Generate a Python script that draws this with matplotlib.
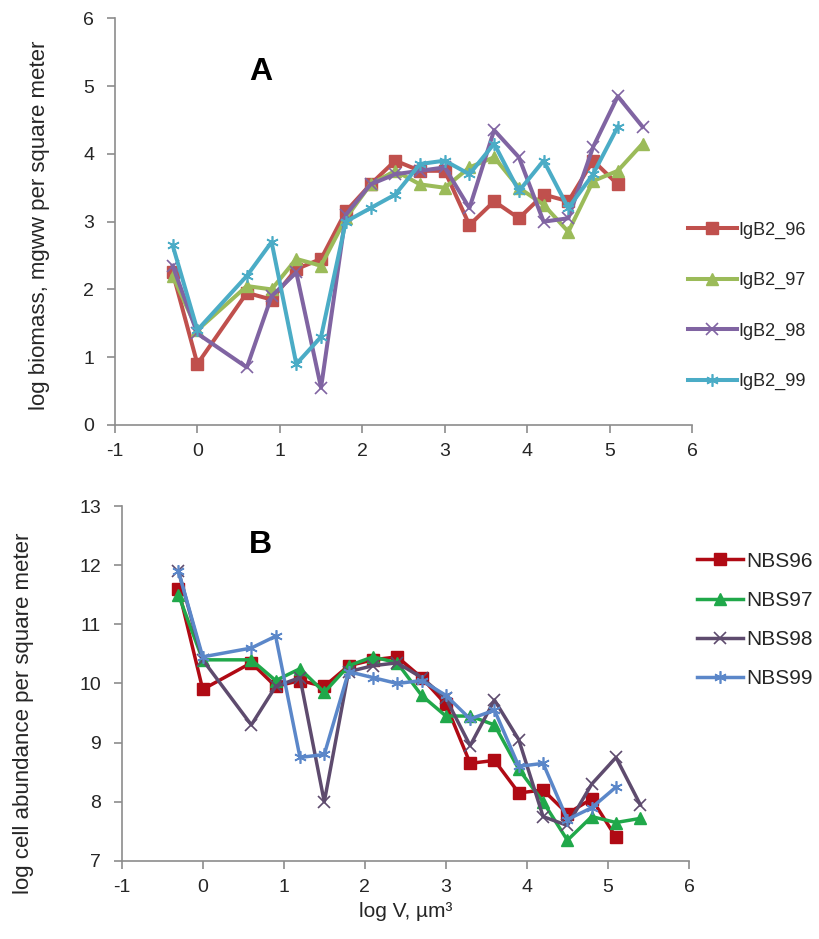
import numpy as np
import matplotlib.pyplot as plt

plt.rcParams['font.family'] = ['Liberation Sans Narrow', 'Liberation Sans', 'DejaVu Sans']
plt.rcParams['axes.unicode_minus'] = False

# log V size classes (um^3)
log_v = [-0.3, 0, 0.6, 0.9, 1.2, 1.5, 1.8, 2.1, 2.4, 2.7, 3.0, 3.3, 3.6, 3.9, 4.2, 4.5, 4.8, 5.1, 5.4]
nan = np.nan

# panel A: log biomass
igb2_96 = [2.25, 0.9, 1.95, 1.85, 2.3, 2.45, 3.15, 3.55, 3.9, 3.75, 3.75, 2.95, 3.3, 3.05, 3.4, 3.3, 3.9, 3.55, nan]
igb2_97 = [2.2, 1.4, 2.05, 2.0, 2.45, 2.35, 3.05, 3.55, 3.75, 3.55, 3.5, 3.8, 3.95, 3.5, 3.25, 2.85, 3.6, 3.75, 4.15]
igb2_98 = [2.35, 1.35, 0.85, 1.9, 2.25, 0.55, 3.1, 3.55, 3.7, 3.75, 3.8, 3.2, 4.35, 3.95, 3.0, 3.05, 4.1, 4.85, 4.4]
igb2_99 = [2.65, 1.4, 2.2, 2.7, 0.9, 1.3, 3.0, 3.2, 3.4, 3.85, 3.9, 3.7, 4.15, 3.45, 3.9, 3.2, 3.7, 4.4, nan]

# panel B: log cell abundance
nbs96 = [11.6, 9.9, 10.35, 9.95, 10.05, 9.95, 10.3, 10.4, 10.45, 10.1, 9.65, 8.65, 8.7, 8.15, 8.2, 7.8, 8.05, 7.4, nan]
nbs97 = [11.5, 10.4, 10.4, 10.05, 10.25, 9.85, 10.3, 10.45, 10.35, 9.8, 9.45, 9.45, 9.3, 8.55, 8.0, 7.35, 7.75, 7.65, 7.72]
nbs98 = [11.9, 10.4, 9.3, 9.95, 10.1, 8.0, 10.2, 10.3, 10.35, 10.1, 9.75, 8.95, 9.72, 9.05, 7.75, 7.6, 8.3, 8.75, 7.95]
nbs99 = [11.9, 10.45, 10.6, 10.8, 8.75, 8.8, 10.2, 10.1, 10.0, 10.05, 9.8, 9.4, 9.55, 8.6, 8.65, 7.7, 7.9, 8.25, nan]

labels_a = ['IgB2_96', 'IgB2_97', 'IgB2_98', 'IgB2_99']
labels_b = ['NBS96', 'NBS97', 'NBS98', 'NBS99']

colors_a = ['#C0504D', '#9BBB59', '#8064A2', '#4BACC6']
colors_b = ['#B00A14', '#20A84A', '#5E4B6E', '#5B87C9']
asterisk = (6, 2, 0)
markers = ['s', '^', 'x', asterisk]

fig = plt.figure(figsize=(8.2, 9.39), dpi=100)
ax1 = fig.add_axes([0.1402, 0.5474, 0.7037, 0.4331])
ax2 = fig.add_axes([0.1484, 0.0831, 0.6918, 0.378])

lines_a = []
for y, c, m, lab in zip([igb2_96, igb2_97, igb2_98, igb2_99], colors_a, markers, labels_a):
    mew = 1.2 if m in ('x', asterisk) else 1
    ln, = ax1.plot(log_v, y, color=c, marker=m, markersize=9, lw=2.9,
                   markeredgewidth=mew, label=lab)
    lines_a.append(ln)

lines_b = []
for y, c, m, lab in zip([nbs96, nbs97, nbs98, nbs99], colors_b, markers, labels_b):
    mew = 1.2 if m in ('x', asterisk) else 1
    ln, = ax2.plot(log_v, y, color=c, marker=m, markersize=9, lw=2.5,
                   markeredgewidth=mew, label=lab)
    lines_b.append(ln)

for ax in (ax1, ax2):
    ax.set_xlim(-1, 6)
    ax.set_xticks(range(-1, 7))
    for s in ('top', 'right'):
        ax.spines[s].set_visible(False)
    for s in ('left', 'bottom'):
        ax.spines[s].set_color('#8c8c8c')
        ax.spines[s].set_linewidth(1.2)
    ax.tick_params(direction='out', length=6, width=1.2, color='#8c8c8c',
                   labelsize=14, labelcolor='#262626', pad=7)
    ax.tick_params(axis='y', pad=9)

ax1.set_ylim(0, 6)
ax1.set_yticks(range(0, 7))
ax2.set_ylim(7, 13)
ax2.set_yticks(range(7, 14))

ax1.set_ylabel('log biomass, mgww per square meter', fontsize=16, color='#262626')
ax1.yaxis.set_label_coords(-0.113, 0.49)
ax2.set_ylabel('log cell abundance per square meter', fontsize=16, color='#262626')
ax2.yaxis.set_label_coords(-0.155, 0.415)
ax2.set_xlabel('log V, µm³', fontsize=15, color='#262626')

ax1.text(0.253, 0.868, 'A', transform=ax1.transAxes, fontsize=23, fontweight='bold',
         ha='center', va='center', family=['Liberation Sans', 'DejaVu Sans'])
ax2.text(0.244, 0.89, 'B', transform=ax2.transAxes, fontsize=23, fontweight='bold',
         ha='center', va='center', family=['Liberation Sans', 'DejaVu Sans'])

fig.legend(handles=lines_a, loc='center left', bbox_to_anchor=(0.839, 0.6741),
           frameon=False, fontsize=13, labelspacing=1.84, handlelength=2.7,
           handletextpad=0.1, borderpad=0, borderaxespad=0, labelcolor='#262626')
fig.legend(handles=lines_b, loc='center left', bbox_to_anchor=(0.85, 0.3397),
           frameon=False, fontsize=15, labelspacing=0.97, handlelength=2.2,
           handletextpad=0.15, borderpad=0, borderaxespad=0, labelcolor='#262626')

fig.savefig('out.png', dpi=100)
